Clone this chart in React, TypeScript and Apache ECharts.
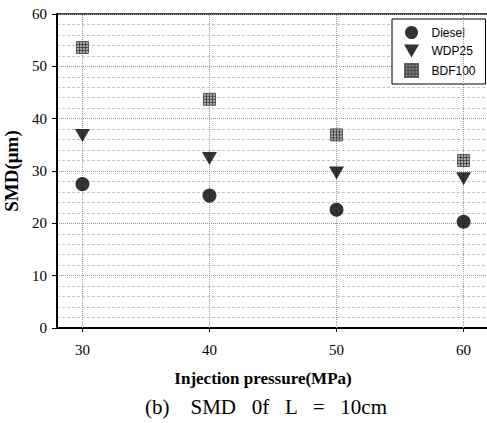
import React, { useEffect, useRef } from "react";
import * as echarts from "echarts";

const pressures = [30, 40, 50, 60];
const diesel = [27.5, 25.3, 22.6, 20.3];
const wdp25 = [36.8, 32.4, 29.6, 28.5];
const bdf100 = [53.6, 43.7, 36.9, 32.0];
const xTicks = [30, 40, 50, 60];

const serif = "'Liberation Serif', 'DejaVu Serif', serif";
const sans = "'Liberation Sans', Arial, sans-serif";
const triPath = "path://M0,0L10,0L5,8.66Z";
const gridSquare = "path://M0,0H12V12H0Z M3,0V12 M6,0V12 M9,0V12 M0,3H12 M0,6H12 M0,9H12";

export default function App() {
  const ref = useRef<HTMLDivElement>(null);
  useEffect(() => {
    if (!ref.current) return;
    const chart = echarts.init(ref.current, null, { renderer: "svg" });
    const pair = (ys: number[]) => pressures.map((x, i) => [x, ys[i]]);
    chart.setOption({
      animation: false,
      backgroundColor: "#fff",
      grid: {
        left: 57,
        top: 14,
        width: 432,
        height: 314,
        containLabel: false,
        outerBoundsMode: "none",
        show: true,
        borderColor: "#000",
        borderWidth: 1.5,
      },
      xAxis: {
        type: "value",
        min: 28,
        max: 62,
        axisLine: { show: true, onZero: false, lineStyle: { color: "#000", width: 2 } },
        axisTick: { show: true, customValues: xTicks, length: 4, lineStyle: { color: "#000" } },
        axisLabel: {
          customValues: xTicks,
          margin: 14,
          color: "#000",
          fontFamily: serif,
          fontSize: 15,
        },
        splitLine: { show: false },
      },
      yAxis: {
        type: "value",
        min: 0,
        max: 60,
        interval: 10,
        name: "SMD(μm)",
        nameLocation: "middle",
        nameGap: 34,
        nameTextStyle: { fontFamily: serif, fontWeight: "bold", fontSize: 19, color: "#000" },
        axisLine: { show: true, lineStyle: { color: "#000", width: 2 } },
        axisTick: { show: true, length: 5, lineStyle: { color: "#000" } },
        axisLabel: { margin: 10, color: "#000", fontFamily: serif, fontSize: 15 },
        splitLine: { show: true, lineStyle: { color: "#999", type: "dotted", width: 1 } },
        minorTick: { show: false, splitNumber: 5 },
        minorSplitLine: { show: true, lineStyle: { color: "#c4c4c4", type: [3, 2], width: 1 } },
      },
      legend: {
        orient: "vertical",
        left: 392,
        top: 19,
        padding: [7, 10, 6, 12],
        itemGap: 5.5,
        itemWidth: 20,
        itemHeight: 13,
        borderColor: "#000",
        borderWidth: 1,
        backgroundColor: "#fff",
        textStyle: { fontFamily: sans, fontSize: 12, color: "#000", padding: [0, 0, 0, 5] },
        data: [
          { name: "Diesel", icon: "circle" },
          { name: "WDP25", icon: triPath },
          { name: "BDF100", icon: gridSquare },
        ],
      },
      series: [
        {
          name: "Diesel",
          type: "scatter",
          data: pair(diesel),
          symbol: "circle",
          symbolSize: 14,
          itemStyle: { color: "#000" },
          markLine: {
            silent: true,
            symbol: ["none", "none"],
            label: { show: false },
            lineStyle: { color: "#999", type: "dotted", width: 1 },
            data: xTicks.map((v) => ({ xAxis: v })),
          },
          z: 5,
        },
        {
          name: "WDP25",
          type: "scatter",
          data: pair(wdp25),
          symbol: triPath,
          symbolSize: [15, 13],
          itemStyle: { color: "#000" },
          z: 5,
        },
        {
          name: "BDF100",
          type: "scatter",
          data: pair(bdf100),
          symbol: gridSquare,
          symbolSize: 12,
          itemStyle: { color: "#9a9a9a", borderColor: "#3a3a3a", borderWidth: 1 },
          z: 5,
        },
      ],
      graphic: [
        {
          type: "text",
          x: 263,
          y: 378,
          style: {
            text: "Injection pressure(MPa)",
            fontFamily: serif,
            fontWeight: "bold",
            fontSize: 17,
            fill: "#000",
            align: "center",
            verticalAlign: "middle",
          },
        },
        {
          type: "text",
          x: 266,
          y: 407,
          style: {
            text: "(b)    SMD   0f   L   =   10cm",
            fontFamily: serif,
            fontSize: 21,
            fill: "#000",
            align: "center",
            verticalAlign: "middle",
          },
        },
      ],
    });
    return () => chart.dispose();
  }, []);
  return <div ref={ref} style={{ width: 487, height: 423, position: "absolute", left: 0, top: 0 }} />;
}
